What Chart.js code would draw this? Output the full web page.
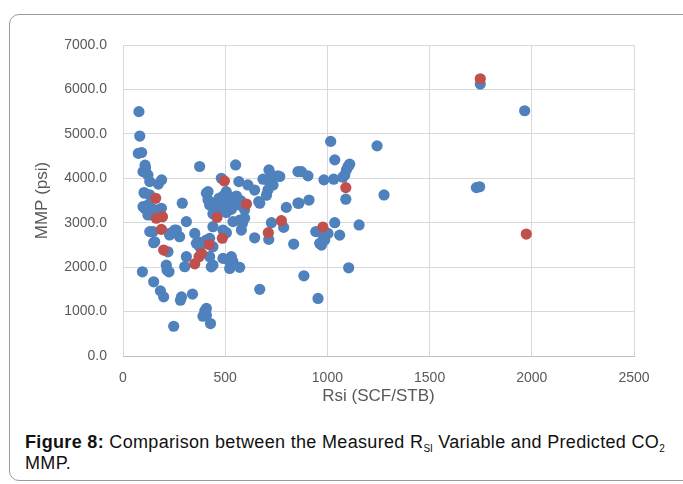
<!DOCTYPE html>
<html>
<head>
<meta charset="utf-8">
<script src="https://cdn.jsdelivr.net/npm/chart.js@4/dist/chart.umd.min.js"></script>
<style>
  html, body { margin: 0; padding: 0; background: #ffffff; }
  body { width: 683px; height: 484px; position: relative; overflow: hidden; }
  #frame { position: absolute; left: 9px; top: 14px; width: 690px; height: 467px;
           border: 1px solid #9a9a9a; border-radius: 10px; box-sizing: border-box; }
  #wrap { position: absolute; left: 0; top: 0; width: 683px; height: 410px; }
  #caption { position: absolute; left: 25px; top: 432px; width: 660px;
             font-family: "Liberation Sans", Arial, sans-serif; font-size: 18px;
             letter-spacing: 0.33px; line-height: 21px; color: #111; }
  #caption b { font-weight: bold; }
  #caption sub { font-size: 10px; vertical-align: -4px; line-height: 0; letter-spacing: 0; }
</style>
</head>
<body>
<div id="frame"></div>
<div id="wrap"><canvas id="c" width="683" height="410"></canvas></div>
<div id="caption"><b>Figure 8:</b> Comparison between the Measured R<sub>SI</sub> Variable and Predicted CO<sub>2</sub><br>MMP.</div>
<script>
// Measured MMP (blue) vs Rsi
const measuredRsi = [78,82,75,91,108,98,122,131,110,173,189,103,131,98,122,139,180,188,122,163,
  131,147,150,228,261,277,253,228,220,212,215,225,95,150,183,199,286,281,340,400,
  408,391,428,248,310,290,351,367,359,375,310,302,375,551,481,567,611,644,408,416,
  416,424,440,522,538,546,571,595,450,470,490,505,520,500,485,460,530,555,575,440,
  505,714,726,758,685,718,734,709,702,856,669,799,856,440,538,571,595,579,489,506,
  644,713,786,835,400,424,440,424,489,530,538,571,522,432,440,669,408,514,584,664,
  726,408,1016,1243,1036,1109,1101,1093,1085,873,905,983,1031,1076,767,1090,1277,910,861,1036,
  1155,943,978,1003,1060,962,987,971,885,1104,954,1748,1965,1729,1745,155,106,139,106];
const measuredMmp = [5500,4950,4560,4580,4295,4150,4075,3925,4230,3870,3965,3680,3625,3360,3400,3325,3245,3325,3175,3285,
  2800,2800,2550,2725,2835,2685,2835,2760,2345,2045,1935,1895,1895,1670,1466,1330,1330,1255,1392,1015,
  918,895,730,670,3025,3440,2760,2570,2535,2460,2235,2010,4265,4300,4000,3925,3850,3735,3665,3700,
  3510,3400,3440,3590,3510,3400,3400,3290,3300,3550,3600,3700,3480,3350,3450,3250,3300,3600,3500,3200,
  3230,4190,4075,4055,3980,3890,3850,3735,3620,4150,3440,3345,3440,2910,3025,3060,3100,2835,2835,2775,
  2660,2625,2895,2520,2570,2648,2460,2235,2197,2235,2120,1995,1970,2008,2045,1500,1070,2160,2985,3475,
  3000,2610,4830,4730,4415,4317,4265,4190,4075,4150,4055,3965,3980,4025,4040,3530,3625,3510,3440,3000,
  2950,2800,2720,2760,2720,2535,2610,2497,1805,1985,1295,6120,5520,3790,3810,2570,3663,3175,3325];
// Predicted MMP (red) vs Rsi
const predictedRsi = [160,163,193,188,199,351,372,384,421,460,486,496,604,711,775,978,1090,1748,1973];
const predictedMmp = [3550,3100,3135,2850,2385,2075,2235,2310,2510,3120,2650,3940,3420,2775,3045,2900,3790,6240,2745];
// Axis ticks
const xTicks = [0,500,1000,1500,2000,2500];
const yTicks = [0,1000,2000,3000,4000,5000,6000,7000];

const toPts = (xs, ys) => xs.map((x, i) => ({x: x, y: ys[i]}));
const FONT = '"Liberation Sans", Arial, sans-serif';

new Chart(document.getElementById('c'), {
  type: 'scatter',
  data: {
    datasets: [
      { label: 'Measured', data: toPts(measuredRsi, measuredMmp), order: 2,
        backgroundColor: '#4F81BD', borderWidth: 0, pointRadius: 5.6, pointHoverRadius: 5.6 },
      { label: 'Predicted', data: toPts(predictedRsi, predictedMmp), order: 1,
        backgroundColor: '#C0504D', borderWidth: 0, pointRadius: 5.6, pointHoverRadius: 5.6 }
    ]
  },
  options: {
    responsive: false,
    animation: false,
    events: [],
    layout: { padding: { left: 0, top: 45, right: 49, bottom: 0 } },
    plugins: { legend: { display: false }, tooltip: { enabled: false } },
    scales: {
      x: {
        type: 'linear', min: 0, max: 2500,
        afterBuildTicks: s => { s.ticks = xTicks.map(v => ({value: v})); },
        afterFit: s => { s.height = 54; },
        grid: { color: '#d9d9d9', drawTicks: false },
        border: { color: '#bfbfbf', width: 1 },
        ticks: { color: '#595959', padding: 14, callback: v => String(v),
                 font: { family: FONT, size: 14 } },
        title: { display: true, text: 'Rsi (SCF/STB)', color: '#595959',
                 padding: { top: 0, bottom: 3 },
                 font: { family: FONT, size: 17 } }
      },
      y: {
        type: 'linear', min: 0, max: 7000,
        afterBuildTicks: s => { s.ticks = yTicks.map(v => ({value: v})); },
        afterFit: s => { s.width = 123; },
        grid: { color: '#d9d9d9', drawTicks: false },
        border: { display: false },
        ticks: { color: '#595959', padding: 16,
                 callback: v => Number(v).toFixed(1),
                 font: { family: FONT, size: 14 } },
        title: { display: true, text: 'MMP (psi)', color: '#595959',
                 padding: { top: 32, bottom: 0 },
                 font: { family: FONT, size: 17 } }
      }
    }
  }
});
</script>
</body>
</html>
